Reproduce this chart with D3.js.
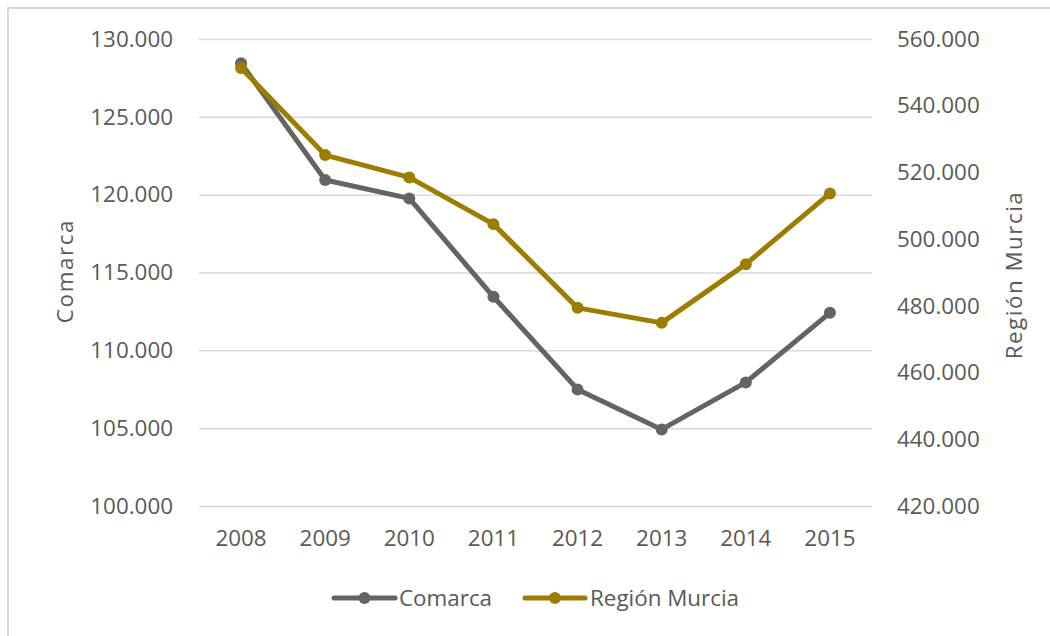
<!DOCTYPE html>
<html>
<head>
<meta charset="utf-8">
<script src="https://cdn.jsdelivr.net/npm/d3@7"></script>
<style>
  html, body { margin: 0; padding: 0; background: #fff; }
  svg { display: block; }
  text { font-family: "Open Sans", sans-serif; fill: #595959; }
</style>
</head>
<body>
<svg id="chart" width="1050" height="636"></svg>
<script>
const years = ["2008", "2009", "2010", "2011", "2012", "2013", "2014", "2015"];
const comarca = [128440, 120940, 119760, 113440, 107490, 104920, 107940, 112410];
const regionMurcia = [551300, 525200, 518500, 504500, 479400, 474900, 492500, 513700];
const leftTicks = [100000, 105000, 110000, 115000, 120000, 125000, 130000];
const rightTicks = [420000, 440000, 460000, 480000, 500000, 520000, 540000, 560000];
const seriesNames = ["Comarca", "Región Murcia"];
const axisTitles = ["Comarca", "Región Murcia"];

const colors = { comarca: "#646464", region: "#9e7c00" };
const svg = d3.select("#chart");
const fontSize = 22.4;

const locale = d3.formatLocale({ decimal: ",", thousands: ".", grouping: [3], currency: ["", "€"] });
const fmt = locale.format(",d");

const plot = { left: 199, right: 872, top: 39, bottom: 506 };

// outer border
svg.append("rect")
  .attr("x", 8).attr("y", 8)
  .attr("width", 1100).attr("height", 700)
  .attr("fill", "none").attr("stroke", "#d9d9d9").attr("stroke-width", 2);

const x = d3.scaleBand().domain(years).range([plot.left, plot.right]).padding(0);
const cx = d => x(d) + x.bandwidth() / 2;
const yL = d3.scaleLinear().domain([100000, 130000]).range([plot.bottom, plot.top]);
const yR = d3.scaleLinear().domain([420000, 560000]).range([plot.bottom, plot.top]);

// gridlines
const grid = svg.append("g").attr("transform", `translate(${plot.left},0)`)
  .call(d3.axisRight(yL).tickValues(leftTicks).tickSize(plot.right - plot.left).tickFormat(""));
grid.select(".domain").remove();
grid.selectAll("line").attr("stroke", "#d9d9d9").attr("stroke-width", 1.5);

// left axis
const gl = svg.append("g").attr("transform", `translate(${plot.left},0)`)
  .call(d3.axisLeft(yL).tickValues(leftTicks).tickSize(0).tickPadding(26).tickFormat(fmt));
gl.select(".domain").remove();
gl.selectAll("text").style("font-size", fontSize + "px").attr("fill", "#595959");

// right axis
const gr = svg.append("g").attr("transform", `translate(${plot.right},0)`)
  .call(d3.axisRight(yR).tickValues(rightTicks).tickSize(0).tickPadding(25).tickFormat(fmt));
gr.select(".domain").remove();
gr.selectAll("text").style("font-size", fontSize + "px").attr("fill", "#595959");

// x axis
const gx = svg.append("g").attr("transform", `translate(0,${plot.bottom})`)
  .call(d3.axisBottom(x).tickSize(0).tickPadding(24));
gx.select(".domain").remove();
gx.selectAll("text").style("font-size", fontSize + "px").attr("fill", "#595959");

// axis titles
svg.append("text")
  .attr("transform", `translate(73,271) rotate(-90)`)
  .attr("text-anchor", "middle")
  .style("font-size", fontSize + "px")
  .style("letter-spacing", "1.6px")
  .text(axisTitles[0]);
svg.append("text")
  .attr("transform", `translate(1022,275) rotate(-90)`)
  .attr("text-anchor", "middle")
  .style("font-size", fontSize + "px")
  .style("letter-spacing", "1.5px")
  .text(axisTitles[1]);

function drawSeries(values, yScale, color) {
  const line = d3.line().x((d, i) => cx(years[i])).y(d => yScale(d));
  svg.append("path").datum(values)
    .attr("d", line).attr("fill", "none")
    .attr("stroke", color).attr("stroke-width", 5)
    .attr("stroke-linejoin", "round").attr("stroke-linecap", "round");
  svg.append("g").selectAll("circle").data(values).join("circle")
    .attr("cx", (d, i) => cx(years[i])).attr("cy", d => yScale(d))
    .attr("r", 6).attr("fill", color);
}
drawSeries(comarca, yL, colors.comarca);
drawSeries(regionMurcia, yR, colors.region);

// legend
const legendItems = [
  { name: seriesNames[0], color: colors.comarca, x0: 334, x1: 395, tx: 399 },
  { name: seriesNames[1], color: colors.region, x0: 525, x1: 585, tx: 590 }
];
const ly = 598;
legendItems.forEach(it => {
  svg.append("line").attr("x1", it.x0).attr("x2", it.x1).attr("y1", ly).attr("y2", ly)
    .attr("stroke", it.color).attr("stroke-width", 5).attr("stroke-linecap", "round");
  svg.append("circle").attr("cx", (it.x0 + it.x1) / 2).attr("cy", ly).attr("r", 6).attr("fill", it.color);
  svg.append("text").attr("x", it.tx).attr("y", ly).attr("dy", "0.35em")
    .style("font-size", fontSize + "px").text(it.name);
});
</script>
</body>
</html>
